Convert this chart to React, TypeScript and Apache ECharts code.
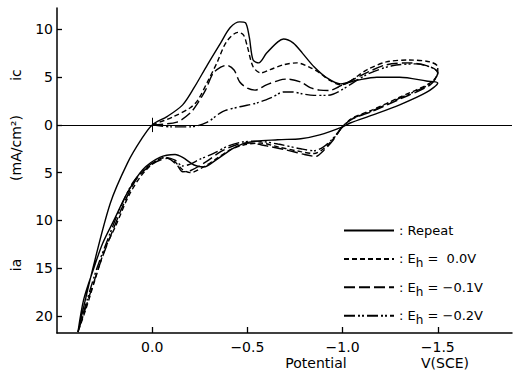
import React, { useEffect, useRef } from "react";
import * as echarts from "echarts";

// Potential (V vs SCE), current density (mA/cm2): positive = ic (cathodic), negative = ia (anodic)
const potentialTicks = [0, -0.5, -1.0, -1.5];
const currentTicks = [-20, -15, -10, -5, 0, 5, 10];

const seriesNames = ["Repeat", "Eh = 0.0V", "Eh = -0.1V", "Eh = -0.2V"];
const legendValues = ["", " 0.0V", "−0.1V", "−0.2V"];

const repeat = [
  [0.39, -21.7], [0.31, -14.9], [0.22, -8.2], [0.13, -4.0], [0.06, -1.6], [0, 0],
  [-0.08, 0.9], [-0.16, 2.1], [-0.22, 3.9], [-0.29, 6.3], [-0.36, 8.6], [-0.41, 10.2],
  [-0.46, 10.8], [-0.49, 10.7], [-0.51, 9.2], [-0.53, 6.8], [-0.56, 6.5], [-0.6, 7.5],
  [-0.66, 8.7], [-0.69, 9.0], [-0.74, 8.6], [-0.79, 7.5], [-0.85, 6.1], [-0.92, 4.9],
  [-0.99, 4.3], [-1.08, 4.7], [-1.18, 5.0], [-1.3, 5.0], [-1.44, 4.6], [-1.5, 4.4],
  [-1.44, 3.4], [-1.3, 2.1], [-1.16, 1.05], [-1.04, 0.2], [-1.0, -0.2], [-0.88, -1.05],
  [-0.78, -1.45], [-0.66, -1.55], [-0.51, -1.8], [-0.43, -2.4], [-0.34, -3.6], [-0.27, -4.4],
  [-0.22, -4.2], [-0.16, -3.4], [-0.12, -3.1], [-0.04, -3.4], [0.05, -4.7], [0.13, -7.1],
  [0.2, -9.95], [0.26, -12.4], [0.31, -15.2], [0.36, -18.3], [0.39, -21.7],
];

const eh00 = [
  [0, 0], [-0.11, 0.85], [-0.2, 1.8], [-0.24, 2.6], [-0.29, 4.5], [-0.34, 6.5], [-0.39, 8.7],
  [-0.45, 9.7], [-0.48, 9.4], [-0.5, 8.2], [-0.53, 6.1], [-0.57, 5.45], [-0.62, 5.8],
  [-0.69, 6.3], [-0.76, 6.5], [-0.83, 6.0], [-0.88, 5.45], [-0.93, 4.7], [-0.99, 4.2],
  [-1.13, 5.8], [-1.23, 6.6], [-1.35, 6.8], [-1.46, 6.6], [-1.5, 6.1], [-1.5, 5.45],
  [-1.46, 4.4], [-1.3, 2.9], [-1.16, 1.6], [-1.05, 0.7], [-1.0, -0.2], [-0.95, -1.5],
  [-0.9, -2.5], [-0.85, -3.0], [-0.78, -2.8], [-0.66, -2.3], [-0.57, -1.9], [-0.48, -2.1],
  [-0.41, -2.6], [-0.34, -3.5], [-0.27, -4.4], [-0.2, -5.0], [-0.16, -4.7], [-0.11, -3.7],
  [-0.06, -3.45], [0.04, -4.9], [0.12, -7.3], [0.19, -10.5], [0.25, -13.1], [0.3, -16.2],
  [0.35, -19.4], [0.39, -21.7],
];

const eh01 = [
  [0, 0], [-0.13, 0.3], [-0.2, 1.25], [-0.24, 2.3], [-0.28, 3.65], [-0.32, 5.4], [-0.36, 6.05],
  [-0.39, 6.25], [-0.43, 5.75], [-0.46, 4.5], [-0.5, 3.85], [-0.54, 3.65], [-0.6, 4.2],
  [-0.67, 4.7], [-0.71, 4.8], [-0.78, 4.5], [-0.83, 3.9], [-0.88, 3.65], [-0.93, 3.6],
  [-0.98, 4.0], [-1.13, 5.5], [-1.23, 6.3], [-1.35, 6.5], [-1.46, 6.1], [-1.5, 5.45],
  [-1.46, 4.2], [-1.3, 2.7], [-1.16, 1.45], [-1.05, 0.6], [-1.0, -0.2], [-0.95, -1.6],
  [-0.9, -2.7], [-0.86, -3.3], [-0.8, -3.1], [-0.7, -2.6], [-0.6, -2.2], [-0.51, -1.9],
  [-0.44, -2.1], [-0.36, -2.8], [-0.28, -3.9], [-0.2, -4.8], [-0.16, -4.9], [-0.13, -4.2],
  [-0.08, -3.5], [0.0, -4.1], [0.08, -5.6], [0.15, -8.3], [0.21, -11.2], [0.27, -14.3],
  [0.32, -17.3], [0.36, -19.8], [0.39, -21.7],
];

const eh02 = [
  [0, 0], [-0.1, -0.2], [-0.2, -0.2], [-0.29, 0.3], [-0.37, 1.4], [-0.46, 1.9], [-0.55, 2.3],
  [-0.63, 2.9], [-0.69, 3.45], [-0.74, 3.45], [-0.79, 3.25], [-0.85, 3.1], [-0.92, 3.1],
  [-0.98, 3.5], [-1.13, 5.3], [-1.26, 6.2], [-1.39, 6.4], [-1.48, 5.9], [-1.5, 5.45],
  [-1.46, 4.3], [-1.3, 2.8], [-1.16, 1.5], [-1.05, 0.65], [-1.0, -0.2], [-0.95, -1.4],
  [-0.9, -2.3], [-0.85, -2.7], [-0.78, -2.5], [-0.66, -2.0], [-0.55, -1.7], [-0.47, -1.8],
  [-0.4, -2.2], [-0.32, -3.0], [-0.25, -3.6], [-0.2, -4.1], [-0.16, -4.3], [-0.12, -3.7],
  [-0.07, -3.4], [0.02, -4.3], [0.1, -6.0], [0.17, -8.8], [0.23, -11.8], [0.29, -15.0],
  [0.34, -18.2], [0.39, -21.7],
];

const seriesData = [repeat, eh00, eh01, eh02];
const lineTypes: any[] = ["solid", [5, 3], [11, 4], [11, 3, 2, 2, 2, 3]];

const FONT = "DejaVu Sans";

export default function App() {
  const ref = useRef<HTMLDivElement>(null);
  useEffect(() => {
    if (!ref.current) return;
    const chart = echarts.init(ref.current, null, { renderer: "svg" });
    const series: any[] = seriesNames.map((name, i) => ({
      type: "line",
      name,
      data: seriesData[i],
      symbol: "none",
      showSymbol: false,
      smooth: 0.3,
      silent: true,
      z: 3,
      lineStyle: { color: "#000", width: 1.4, type: lineTypes[i] },
      itemStyle: { color: "#000" },
    }));
    series[0].markLine = {
      silent: true,
      symbol: ["none", "none"],
      label: { show: false },
      lineStyle: { color: "#000", width: 1, type: "solid" },
      data: [
        { yAxis: 0 },
        [{ coord: [0, -0.75] }, { coord: [0, 0.75] }],
      ],
    };
    const legends = seriesNames.map((name, i) => ({
      data: [name],
      left: 338,
      top: 219 + i * 28.4,
      itemWidth: 50,
      itemHeight: 14,
      selectedMode: false,
      itemStyle: { opacity: 0 },
      textStyle: {
        fontFamily: FONT,
        fontSize: 13,
        color: "#000",
        rich: {
          t: { fontFamily: FONT, fontSize: 13, color: "#000" },
          s: { fontFamily: FONT, fontSize: 12, color: "#000", padding: [9, 0, 0, 0] },
        },
      },
      formatter: () =>
        i === 0 ? "{t|: Repeat}" : `{t|: E}{s|h}{t| = ${legendValues[i]}}`,
    }));
    const fnt = `14px '${FONT}'`;
    chart.setOption({
      animation: false,
      backgroundColor: "#fff",
      grid: { left: 57, right: 10, top: 8, bottom: 43 },
      xAxis: {
        type: "value",
        inverse: true,
        min: -1.89,
        max: 0.5,
        axisLine: { onZero: false, lineStyle: { color: "#000", width: 1.5 } },
        axisTick: {
          inside: true,
          length: 6,
          customValues: potentialTicks,
          lineStyle: { color: "#000", width: 1.3 },
        },
        axisLabel: {
          customValues: potentialTicks,
          formatter: (v: number) => (v === 0 ? "0.0" : "−" + Math.abs(v).toFixed(1)),
          fontFamily: FONT,
          fontSize: 14,
          color: "#000",
          margin: 7,
        },
        splitLine: { show: false },
      },
      yAxis: {
        type: "value",
        min: -21.8,
        max: 12.25,
        axisLine: { onZero: false, lineStyle: { color: "#000", width: 1.5 } },
        axisTick: {
          inside: true,
          length: 5,
          customValues: currentTicks,
          lineStyle: { color: "#000", width: 1.3 },
        },
        axisLabel: {
          customValues: currentTicks,
          formatter: (v: number) => String(Math.abs(v)),
          fontFamily: FONT,
          fontSize: 14,
          color: "#000",
          margin: 4,
        },
        splitLine: { show: false },
      },
      legend: legends,
      graphic: [
        {
          type: "text",
          x: 316,
          y: 363,
          style: { text: "Potential", font: fnt, fill: "#000", align: "center", verticalAlign: "middle" },
        },
        {
          type: "text",
          x: 445,
          y: 363,
          style: { text: "V(SCE)", font: fnt, fill: "#000", align: "center", verticalAlign: "middle" },
        },
        {
          type: "text",
          x: 16,
          y: 75,
          rotation: Math.PI / 2,
          style: { text: "ic", font: fnt, fill: "#000", align: "center", verticalAlign: "middle" },
        },
        {
          type: "text",
          x: 16,
          y: 148,
          rotation: Math.PI / 2,
          style: { text: "(mA/cm²)", font: fnt, fill: "#000", align: "center", verticalAlign: "middle" },
        },
        {
          type: "text",
          x: 16,
          y: 265,
          rotation: Math.PI / 2,
          style: { text: "ia", font: fnt, fill: "#000", align: "center", verticalAlign: "middle" },
        },
      ],
      series,
    });
    return () => chart.dispose();
  }, []);
  return (
    <div
      ref={ref}
      style={{ position: "fixed", left: 0, top: 0, width: 522, height: 376, background: "#fff" }}
    />
  );
}
